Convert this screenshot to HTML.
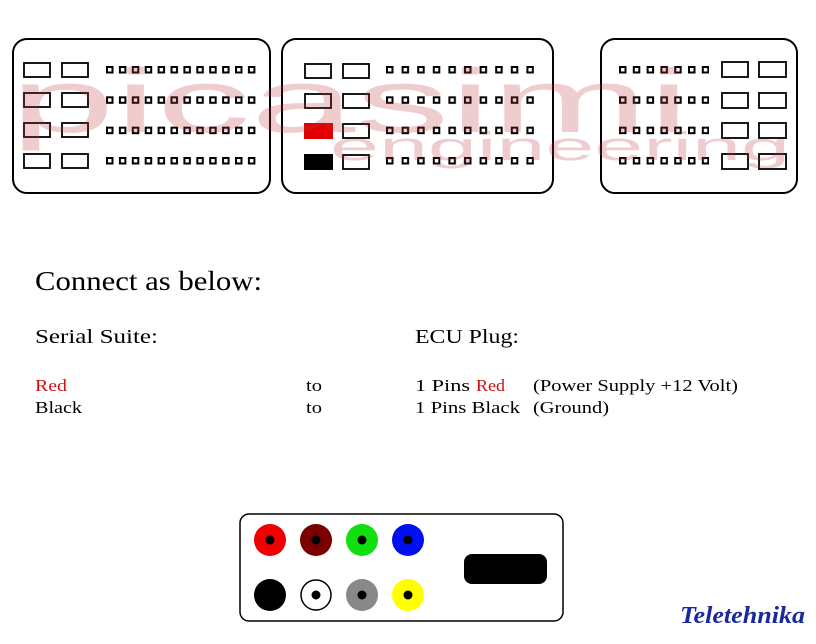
<!DOCTYPE html>
<html><head><style>html,body{margin:0;padding:0;background:#fff;}svg{display:block}</style></head>
<body>
<svg width="816" height="644" viewBox="0 0 816 644" xmlns="http://www.w3.org/2000/svg">
<defs>
<pattern id="p1" x="106" y="66" width="12.9" height="30.33" patternUnits="userSpaceOnUse"><rect x="1" y="1" width="5.5" height="5.5" fill="none" stroke="#000" stroke-width="2"/></pattern>
<pattern id="p2" x="386" y="66" width="15.6" height="30.33" patternUnits="userSpaceOnUse"><rect x="1" y="1" width="5.5" height="5.5" fill="none" stroke="#000" stroke-width="2"/></pattern>
<pattern id="p3" x="619" y="66" width="13.8" height="30.33" patternUnits="userSpaceOnUse"><rect x="1" y="1" width="5.5" height="5.5" fill="none" stroke="#000" stroke-width="2"/></pattern>
</defs>
<g fill="none" stroke="#000" stroke-width="2">
<rect x="13" y="39" width="257" height="154" rx="14"/>
<rect x="282" y="39" width="271" height="154" rx="14"/>
<rect x="601" y="39" width="196" height="154" rx="14"/>
</g>
<g fill="none" stroke="#000" stroke-width="1.8">
<rect x="24" y="63" width="26" height="14"/><rect x="62" y="63" width="26" height="14"/>
<rect x="24" y="93" width="26" height="14"/><rect x="62" y="93" width="26" height="14"/>
<rect x="24" y="123" width="26" height="14"/><rect x="62" y="123" width="26" height="14"/>
<rect x="24" y="154" width="26" height="14"/><rect x="62" y="154" width="26" height="14"/>
<rect x="305" y="64" width="26" height="14"/><rect x="343" y="64" width="26" height="14"/>
<rect x="305" y="94" width="26" height="14"/><rect x="343" y="94" width="26" height="14"/>
<rect x="343" y="124" width="26" height="14"/>
<rect x="343" y="155" width="26" height="14"/>
<rect x="722" y="62" width="26" height="15"/><rect x="759" y="62" width="27" height="15"/>
<rect x="722" y="93" width="26" height="15"/><rect x="759" y="93" width="27" height="15"/>
<rect x="722" y="123" width="26" height="15"/><rect x="759" y="123" width="27" height="15"/>
<rect x="722" y="154" width="26" height="15"/><rect x="759" y="154" width="27" height="15"/>
</g>
<rect x="304" y="123" width="29" height="16" fill="#e00000"/>
<rect x="304" y="154" width="29" height="16" fill="#000"/>
<rect x="106" y="66" width="152" height="100" fill="url(#p1)"/>
<rect x="386" y="66" width="148" height="100" fill="url(#p2)"/>
<rect x="619" y="66" width="90" height="100" fill="url(#p3)"/>
<g opacity="0.25" fill="#c0393b" font-family="Liberation Sans, sans-serif">
<text x="10" y="132" font-size="90" textLength="680" lengthAdjust="spacingAndGlyphs">picasimi</text>
<text x="330" y="160" font-size="40" textLength="460" lengthAdjust="spacingAndGlyphs">engineering</text>
</g>
<g font-family="Liberation Serif, serif" fill="#000">
<text x="35" y="290" font-size="27" textLength="227" lengthAdjust="spacingAndGlyphs">Connect as below:</text>
<text x="35" y="343" font-size="20" textLength="123" lengthAdjust="spacingAndGlyphs">Serial Suite:</text>
<text x="415" y="343" font-size="20" textLength="104" lengthAdjust="spacingAndGlyphs">ECU Plug:</text>
<text x="35" y="391" font-size="17" fill="#d01010" textLength="32" lengthAdjust="spacingAndGlyphs">Red</text>
<text x="306" y="391" font-size="17" textLength="16" lengthAdjust="spacingAndGlyphs">to</text>
<text x="415" y="391" font-size="17" textLength="55" lengthAdjust="spacingAndGlyphs">1 Pins</text>
<text x="476" y="391" font-size="17" fill="#d01010" textLength="29" lengthAdjust="spacingAndGlyphs">Red</text>
<text x="533" y="391" font-size="17" textLength="205" lengthAdjust="spacingAndGlyphs">(Power Supply +12 Volt)</text>
<text x="35" y="413" font-size="17" textLength="47" lengthAdjust="spacingAndGlyphs">Black</text>
<text x="306" y="413" font-size="17" textLength="16" lengthAdjust="spacingAndGlyphs">to</text>
<text x="415" y="413" font-size="17" textLength="105" lengthAdjust="spacingAndGlyphs">1 Pins Black</text>
<text x="533" y="413" font-size="17" textLength="76" lengthAdjust="spacingAndGlyphs">(Ground)</text>
</g>
<rect x="240" y="514" width="323" height="107" rx="9" fill="none" stroke="#000" stroke-width="1.5"/>
<circle cx="270" cy="540" r="16" fill="#f00000"/>
<circle cx="316" cy="540" r="16" fill="#7a0000"/>
<circle cx="362" cy="540" r="16" fill="#10e010"/>
<circle cx="408" cy="540" r="16" fill="#0010f0"/>
<circle cx="270" cy="595" r="16" fill="#000"/>
<circle cx="316" cy="595" r="15" fill="#fff" stroke="#000" stroke-width="1.5"/>
<circle cx="362" cy="595" r="16" fill="#888"/>
<circle cx="408" cy="595" r="16" fill="#ffff00"/>
<g fill="#000">
<circle cx="270" cy="540" r="4.5"/><circle cx="316" cy="540" r="4.5"/><circle cx="362" cy="540" r="4.5"/><circle cx="408" cy="540" r="4.5"/>
<circle cx="316" cy="595" r="4.5"/><circle cx="362" cy="595" r="4.5"/><circle cx="408" cy="595" r="4.5"/>
</g>
<rect x="464" y="554" width="83" height="30" rx="8" fill="#000"/>
<text x="680" y="623" font-family="Liberation Serif, serif" font-style="italic" font-weight="bold" font-size="24" fill="#1a2a9a" textLength="125" lengthAdjust="spacingAndGlyphs">Teletehnika</text>
</svg>
</body></html>
